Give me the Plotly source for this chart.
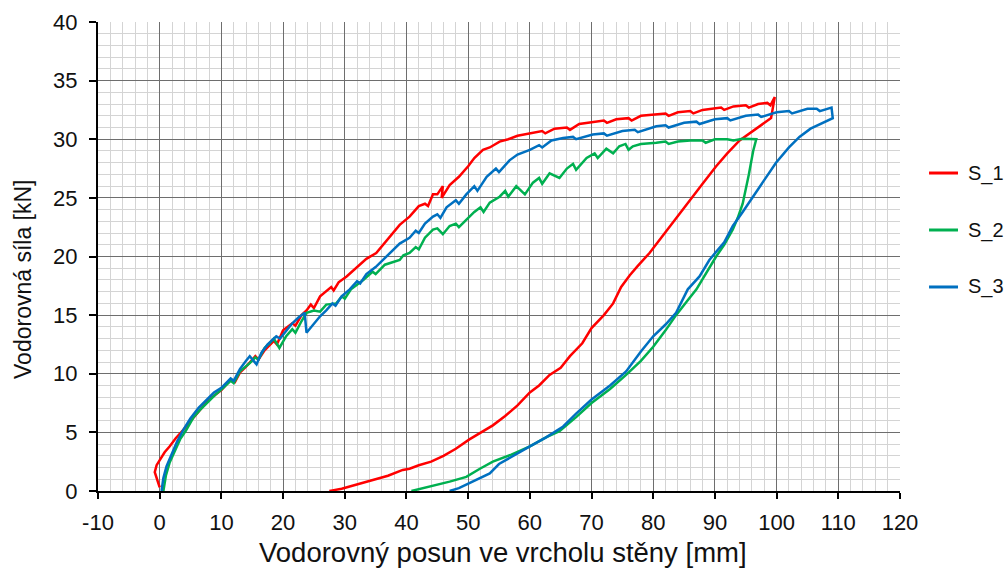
import plotly.graph_objects as go

# S_1 (red)
s1_x = [0.0,-0.4,-0.8,-0.5,0.0,0.8,1.6,2.6,3.8,5.0,6.5,8.0,10.0,11.5,12.2,13.0,14.0,15.5,16.0,17.0,18.5,19.0,20.0,21.5,22.0,23.0,23.8,24.5,25.0,26.0,27.0,27.8,28.2,29.0,30.3,32.0,33.5,35.1,36.5,38.0,38.9,40.5,42.0,43.0,43.5,44.3,45.0,45.9,45.7,47.0,48.5,50.0,51.0,52.4,53.5,55.1,56.5,58.0,60.0,62,62.5,64,66,66.5,68,70.2,72,72.5,74,76,76.5,78,80.5,82,82.5,84,86,86.5,88,90,91,91.5,93,95,95.5,97,98.5,99.0,99.7,
        99.1,98,96.7,94,92,90.2,88,86.4,84.5,82.7,81,79.4,77.5,76.2,74.8,73.5,72,70,68.5,66.5,65,63.2,61.5,60,58,56,54,52,50.2,48,46,44,42,40.5,39.4,37,35,33,31,29.5,28,27.5]
s1_y = [0.3,0.9,1.6,2.2,2.6,3.3,3.8,4.5,5.2,6.0,6.9,7.8,8.6,9.5,9.3,10.1,10.6,11.5,11.2,12.0,12.8,12.5,13.7,14.3,14.1,15.0,15.4,15.9,15.6,16.6,17.0,17.4,17.1,17.8,18.3,19.1,19.8,20.3,21.2,22.2,22.7,23.4,24.3,24.5,24.3,25.3,25.3,26.0,25.0,26.1,26.8,27.7,28.4,29.1,29.3,29.8,30.0,30.3,30.5,30.7,30.5,30.9,31.0,30.8,31.3,31.5,31.6,31.4,31.7,31.8,31.6,32.0,32.1,32.2,32.0,32.3,32.4,32.2,32.5,32.6,32.7,32.5,32.8,32.9,32.7,33.0,33.1,32.9,33.6,
        31.8,31.4,30.9,29.9,28.8,27.7,26.2,25.1,23.8,22.6,21.4,20.3,19.2,18.4,17.4,16.0,15.0,13.9,12.6,11.5,10.5,9.9,9.0,8.4,7.3,6.4,5.6,5.0,4.4,3.6,3.0,2.5,2.2,1.9,1.8,1.3,1.0,0.7,0.4,0.2,0.05,0.0]

# S_2 (green)
s2_x = [0.6,1.0,1.6,2.5,3.3,4.3,5.5,6.5,7.6,9.0,10.3,11.5,12.0,13.0,14.6,15.5,16.0,17.0,17.8,18.5,19.4,20.5,21.5,22.0,23.0,23.8,25.0,26.0,27.0,28.6,29.5,30.0,31.0,33.0,34.5,35.0,36.5,38.9,39.5,40.5,41.5,42.0,43.0,44.3,45.0,45.9,47.0,48.0,48.5,49.7,51,52,52.5,53.5,55.1,56,56.5,57.8,59.2,60.5,61.5,62,63.2,64.8,66,67,67.5,69.2,70.5,71,72.4,73.5,74.5,75.5,76,76.7,78,80.5,82,82.5,84,86,88,88.5,90,92,93,94.5,96.7,
        96.2,95.5,94.5,93.7,92.9,91.5,90.2,88.5,87,85.5,83.7,82,80,78,75.6,73,70,67.5,64.8,62.7,60,57,54,51.9,49.7,47,44,42,40.8]
s2_y = [0.0,1.3,2.4,3.5,4.4,5.2,6.3,6.9,7.5,8.2,8.8,9.4,9.2,10.2,10.9,11.4,11.2,12.2,12.6,13.0,12.2,13.2,13.8,13.5,14.5,15.2,15.4,15.3,15.9,16.0,16.6,16.4,17.2,18.0,18.7,18.5,19.3,19.7,20.1,20.3,20.8,20.6,21.6,22.3,22.4,21.9,22.6,22.8,22.5,23.1,23.8,24.2,23.8,24.6,25.1,25.6,25.1,26.0,25.3,26.3,26.7,26.2,27.1,26.7,27.5,27.9,27.4,28.4,28.8,28.4,29.2,28.8,29.4,29.6,29.1,29.4,29.6,29.7,29.8,29.6,29.8,29.9,29.9,29.7,30.0,30.0,29.9,30.05,30.0,
        29.0,27.0,24.5,23.3,22.3,21.0,20.0,18.5,17.2,16.2,15.0,13.7,12.3,11.1,9.9,8.7,7.5,6.3,5.1,4.6,3.8,3.1,2.5,1.9,1.2,0.8,0.4,0.15,0.0]

# S_3 (blue)
s3_x = [0.3,0.6,1.1,2.0,2.8,3.8,5.0,6.3,7.6,8.8,10.0,11.5,12.0,13.0,14.0,14.6,15.7,16.5,17.5,18.9,19.5,20.5,21.5,22.5,23.5,23.8,25.0,26.0,27.0,28.0,28.5,29.5,30.8,32,32.5,33.5,35,36.2,37.5,38.9,40.5,41.5,42,43,44.3,45,45.5,46.5,48,48.5,49.7,51,51.5,53,54.5,55,56.7,58,60,61.5,62,63.5,65.4,67,67.5,70.2,72,72.5,75,77,77.5,80.5,82,82.5,85,87,87.5,90,92,92.5,95,97,97.5,100,102,102.5,105,106.5,107,108.9,
        109.1,107,105.5,103.7,102,99.9,98,96.2,94.5,92.9,91.5,90.2,89.1,87.5,85.6,83.7,82,80,78,75.6,73,70,67.5,65.4,62.7,60,57,55,53.5,51.9,50,48.5,47]
s3_y = [0.0,1.1,2.1,3.2,4.2,5.2,6.2,7.1,7.8,8.4,8.8,9.6,9.4,10.4,11.1,11.5,10.8,11.8,12.5,13.2,13.0,13.7,14.3,14.8,15.2,13.5,14.3,14.9,15.4,16.0,15.8,16.6,17.2,17.9,17.7,18.5,19.1,19.7,20.4,21.1,21.6,22.2,22.0,22.8,23.4,23.6,23.3,24.2,24.8,24.5,25.3,26.0,25.6,26.8,27.5,27.2,28.2,28.7,29.1,29.5,29.3,29.9,30.1,30.2,30.0,30.4,30.5,30.3,30.7,30.8,30.6,31.1,31.2,31.0,31.4,31.5,31.3,31.7,31.8,31.6,32.0,32.1,31.9,32.3,32.4,32.2,32.6,32.6,32.4,32.7,
        31.8,31.3,30.9,30.2,29.3,28.0,26.5,25.1,23.8,22.6,21.2,20.4,19.7,18.3,17.2,15.2,14.2,13.2,11.9,10.2,9.0,7.8,6.6,5.5,4.6,3.8,2.9,2.3,1.5,1.1,0.6,0.25,0.0]

series_names = ["S_1", "S_2", "S_3"]
series_x = [s1_x, s2_x, s3_x]
series_y = [s1_y, s2_y, s3_y]
series_colors = ["#FF0000", "#00B050", "#0070C0"]

x_ticks = list(range(-10, 121, 10))
y_ticks = list(range(0, 41, 5))

x_title = "Vodorovný posun ve vrcholu stěny [mm]"
y_title = "Vodorovná síla [kN]"

regular = "Liberation Sans, Arial, sans-serif"

fig = go.Figure()
for name, xs, ys, col in zip(series_names, series_x, series_y, series_colors):
    fig.add_trace(go.Scatter(x=xs, y=ys, mode="lines", name=name,
                             line=dict(color=col, width=2.5), showlegend=False))

# manual legend (paper coordinates, right of the plot)
leg_y = [0.678, 0.5565, 0.435]
for name, col, yy in zip(series_names, series_colors, leg_y):
    fig.add_shape(type="line", xref="paper", yref="paper",
                  x0=1.0362, x1=1.0723, y0=yy, y1=yy,
                  line=dict(color=col, width=3))
    fig.add_annotation(xref="paper", yref="paper", x=1.0825, y=yy,
                       xanchor="left", yanchor="middle", showarrow=False,
                       text=name, font=dict(family=regular, size=20, color="#111"))

fig.add_annotation(xref="paper", yref="paper", x=0.505, y=-0.132,
                   xanchor="center", yanchor="middle", showarrow=False,
                   text=x_title, font=dict(family=regular, size=27.5, color="#111"))
fig.add_annotation(xref="paper", yref="paper", x=-0.0935, y=0.45,
                   xanchor="center", yanchor="middle", showarrow=False, textangle=-90,
                   text=y_title, font=dict(family=regular, size=23, color="#111"))

fig.update_layout(
    width=1005, height=569,
    margin=dict(l=98, r=105, t=22, b=78),
    paper_bgcolor="white", plot_bgcolor="white",
    font=dict(family=regular, size=22, color="#111"),
    showlegend=False,
)
fig.update_xaxes(range=[-10, 120], tickvals=x_ticks, ticktext=[str(v) for v in x_ticks],
                 showgrid=True, gridcolor="#6e6e6e", gridwidth=1,
                 minor=dict(dtick=2, showgrid=True, gridcolor="#d4d4d4", gridwidth=1),
                 showline=True, linecolor="black", linewidth=2,
                 ticks="outside", ticklen=6, tickwidth=2, tickcolor="black",
                 zeroline=False, automargin=False, ticklabelstandoff=5,
                 tickfont=dict(family=regular, size=22))
fig.update_yaxes(range=[0, 40], tickvals=y_ticks, ticktext=[str(v) for v in y_ticks],
                 showgrid=True, gridcolor="#6e6e6e", gridwidth=1,
                 minor=dict(dtick=1, showgrid=True, gridcolor="#d4d4d4", gridwidth=1),
                 showline=True, linecolor="black", linewidth=2,
                 ticks="outside", ticklen=7, tickwidth=2, tickcolor="black",
                 zeroline=False, automargin=False, ticklabelstandoff=7,
                 tickfont=dict(family=regular, size=22))

fig.write_html("out.html", config={"displayModeBar": False},
               post_script="document.body.style.margin='0';document.body.style.overflow='hidden';")
